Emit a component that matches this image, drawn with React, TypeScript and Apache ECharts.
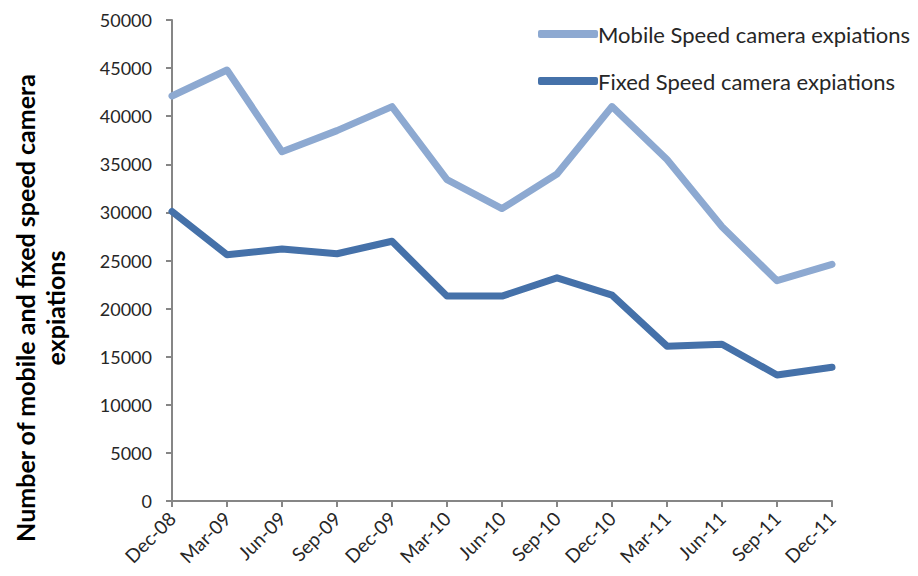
import React, { useEffect, useRef } from "react";
import * as echarts from "echarts";

const categories = ["Dec-08", "Mar-09", "Jun-09", "Sep-09", "Dec-09", "Mar-10", "Jun-10", "Sep-10", "Dec-10", "Mar-11", "Jun-11", "Sep-11", "Dec-11"];
const mobileSeries = [42100, 44800, 36300, 38500, 41000, 33400, 30400, 34000, 41000, 35500, 28500, 22900, 24600];
const fixedSeries = [30100, 25600, 26200, 25700, 27000, 21300, 21300, 23200, 21400, 16100, 16300, 13100, 13900];
const seriesNames = ["Mobile Speed camera expiations", "Fixed Speed camera expiations"];
const yAxisTitle = ["Number of mobile and fixed speed camera", "expiations"];

const FONT = "Lato, 'Open Sans', sans-serif";

export default function App() {
  const ref = useRef<HTMLDivElement>(null);
  useEffect(() => {
    if (!ref.current) return;
    const chart = echarts.init(ref.current, null, { renderer: "svg" });
    chart.setOption({
      animation: false,
      backgroundColor: "#ffffff",
      grid: { left: 164, right: 78, top: 12, bottom: 65, containLabel: false },
      legend: {
        orient: "vertical",
        left: 525,
        top: 10,
        itemWidth: 60,
        itemHeight: 8,
        itemGap: 25,
        icon: "roundRect",
        textStyle: { fontFamily: FONT, fontSize: 22, color: "#262626", padding: [0, 0, 0, -5] },
        data: seriesNames,
      },
      xAxis: {
        type: "category",
        data: categories,
        boundaryGap: false,
        axisLine: { lineStyle: { color: "#868686", width: 2 } },
        axisTick: { show: true, alignWithLabel: true, length: 6, lineStyle: { color: "#868686", width: 2 } },
        axisLabel: { rotate: 45, fontFamily: FONT, fontSize: 19, color: "#262626", margin: 14, interval: 0 },
        splitLine: { show: false },
      },
      yAxis: {
        type: "value",
        min: 0,
        max: 50000,
        interval: 5000,
        axisLine: { show: true, lineStyle: { color: "#868686", width: 2 } },
        axisTick: { show: true, length: 6, lineStyle: { color: "#868686", width: 2 } },
        axisLabel: { fontFamily: FONT, fontSize: 18, color: "#262626", margin: 20, formatter: (v: number) => String(v) },
        splitLine: { show: false },
      },
      graphic: [
        {
          type: "text",
          x: 17,
          y: 300,
          rotation: Math.PI / 2,
          style: {
            text: yAxisTitle[0],
            fontFamily: FONT,
            fontSize: 25,
            fontWeight: "bold",
            fill: "#000000",
            textAlign: "center",
            textVerticalAlign: "middle",
          },
        },
        {
          type: "text",
          x: 47,
          y: 300,
          rotation: Math.PI / 2,
          style: {
            text: yAxisTitle[1],
            fontFamily: FONT,
            fontSize: 25,
            fontWeight: "bold",
            fill: "#000000",
            textAlign: "center",
            textVerticalAlign: "middle",
          },
        },
      ],
      series: [
        {
          name: seriesNames[0],
          type: "line",
          data: mobileSeries,
          symbol: "none",
          lineStyle: { width: 7, color: "#8DA9D1", join: "round", cap: "round" },
          itemStyle: { color: "#8DA9D1" },
        },
        {
          name: seriesNames[1],
          type: "line",
          data: fixedSeries,
          symbol: "none",
          lineStyle: { width: 7, color: "#4571A9", join: "round", cap: "round" },
          itemStyle: { color: "#4571A9" },
        },
      ],
    });
    return () => chart.dispose();
  }, []);
  return <div ref={ref} style={{ width: 902, height: 560 }} />;
}
